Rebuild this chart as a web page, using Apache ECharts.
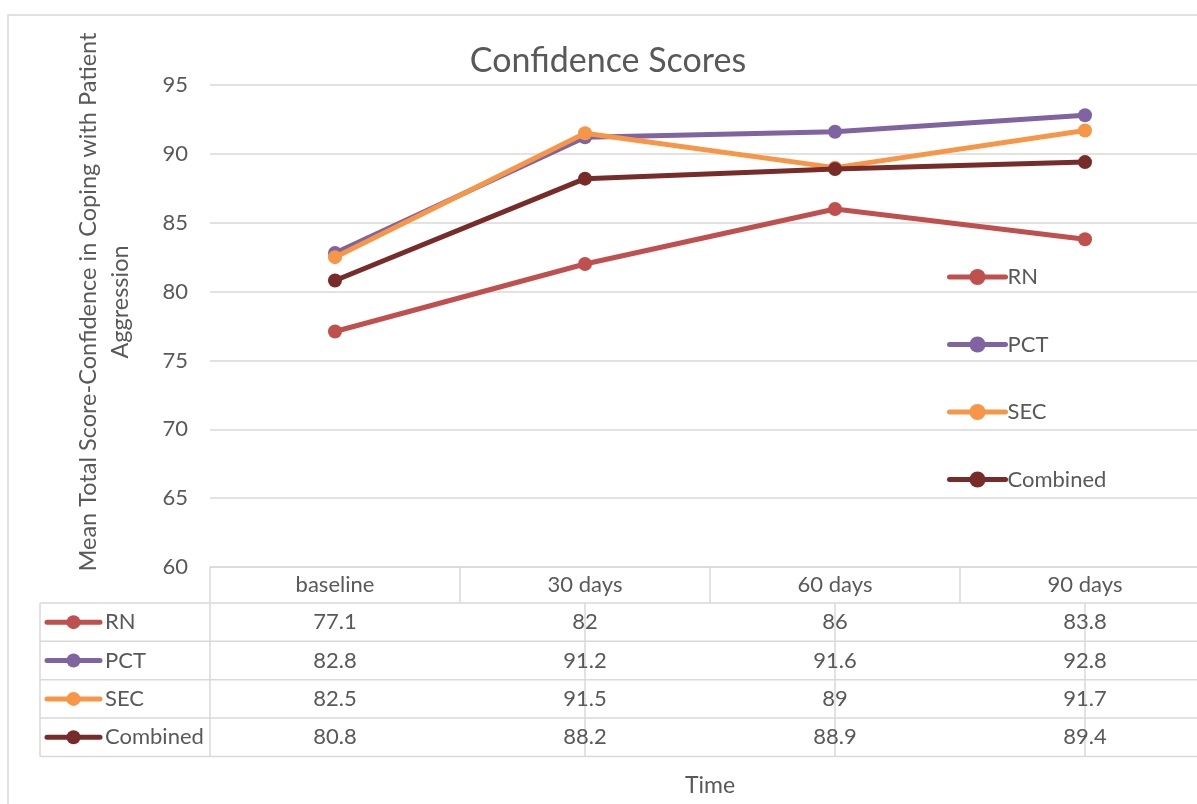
<!DOCTYPE html>
<html>
<head>
<meta charset="utf-8">
<script src="https://cdn.jsdelivr.net/npm/echarts@6/dist/echarts.min.js"></script>
<style>
  html, body { margin: 0; padding: 0; background: #fff; }
  #chart { width: 1197px; height: 804px; }
</style>
</head>
<body>
<div id="chart"></div>
<script>
  // data
  const categories = ['baseline', '30 days', '60 days', '90 days']
  const seriesNames = ['RN', 'PCT', 'SEC', 'Combined']
  const rn = [77.1, 82, 86, 83.8]
  const pct = [82.8, 91.2, 91.6, 92.8]
  const sec = [82.5, 91.5, 89, 91.7]
  const combined = [80.8, 88.2, 88.9, 89.4]
  const yTicks = [60, 65, 70, 75, 80, 85, 90, 95]

  const allValues = [rn, pct, sec, combined]
  const colors = ['#c0504d', '#8064a2', '#f79646', '#772c2a']
  const textColor = '#595959'
  const lineGray = '#d9d9d9'
  const font = 'Lato, "Open Sans", sans-serif'

  const chart = echarts.init(document.getElementById('chart'))

  const option = {
    animation: false,
    title: {
      text: 'Confidence Scores',
      left: 603,
      top: 39,
      textAlign: 'center',
      textStyle: { color: textColor, fontSize: 34, fontWeight: 'normal', fontFamily: font }
    },
    legend: {
      orient: 'vertical',
      left: 947,
      top: 266,
      padding: 0,
      itemWidth: 56,
      itemHeight: 20,
      itemGap: 45.5,
      lineStyle: { width: 5 },
      textStyle: { color: textColor, fontSize: 22, fontFamily: font, padding: [0, 0, 0, -3] },
      data: seriesNames.map(n => ({ name: n, lineStyle: { width: 5 } }))
    },
    grid: {
      left: 210,
      top: 85,
      width: 1000,
      height: 482,
      outerBoundsMode: 'none'
    },
    xAxis: {
      type: 'category',
      data: categories,
      boundaryGap: true,
      name: 'Time',
      nameLocation: 'middle',
      nameGap: 207,
      nameTextStyle: { color: textColor, fontSize: 23, fontFamily: font },
      axisLine: { lineStyle: { color: lineGray, width: 1.5 } },
      axisTick: { show: true, inside: false, length: 36, lineStyle: { color: lineGray, width: 1.5 } },
      axisLabel: { color: textColor, fontSize: 22, fontFamily: font, margin: 7, verticalAlign: 'top' }
    },
    yAxis: {
      type: 'value',
      min: yTicks[0],
      max: yTicks[yTicks.length - 1],
      interval: 5,
      axisLine: { show: false },
      axisTick: { show: false },
      axisLabel: { color: textColor, fontSize: 22, fontFamily: font, margin: 22 },
      splitLine: { lineStyle: { color: lineGray, width: 1.5 } }
    },
    // later series drawn on top, like Excel
    series: seriesNames.map((name, i) => ({
      name: name,
      type: 'line',
      data: allValues[i],
      symbol: 'circle',
      symbolSize: 14,
      color: colors[i],
      lineStyle: { width: 5, cap: 'round' },
      z: 2 + i
    }))
  }
  chart.setOption(option)

  // data table under the plot, built from the same arrays
  const rowTop = 603
  const rowH = 38.35
  const tableLeft = 40
  const plotLeft = 210
  const rightEdge = 1197
  const graphic = []
  const line = (x1, y1, x2, y2) => ({
    type: 'line', silent: true,
    shape: { x1: x1, y1: y1, x2: x2, y2: y2 },
    style: { stroke: lineGray, lineWidth: 1.5 }
  })
  // outer chart border
  graphic.push({
    type: 'rect', silent: true,
    shape: { x: 8, y: 15, width: 1300, height: 900 },
    style: { fill: 'none', stroke: lineGray, lineWidth: 1.5 }
  })
  // y axis title (Excel centres it a bit above the plot middle)
  graphic.push({
    type: 'text', silent: true,
    x: 104, y: 302, rotation: Math.PI / 2,
    style: {
      text: 'Mean Total Score-Confidence in Coping with Patient\nAggression',
      fill: textColor, fontSize: 23.5, fontFamily: font, lineHeight: 32,
      align: 'center', verticalAlign: 'middle'
    }
  })
  const tableBottom = rowTop + rowH * seriesNames.length
  for (let r = 0; r <= seriesNames.length; r++) {
    const y = rowTop + r * rowH
    graphic.push(line(tableLeft, y, rightEdge, y))
  }
  const colX = [tableLeft, plotLeft]
  for (let c = 1; c <= categories.length; c++) {
    colX.push(chart.convertToPixel({ xAxisIndex: 0 }, c - 0.5))
  }
  colX.forEach(x => graphic.push(line(x, rowTop, x, tableBottom)))

  seriesNames.forEach((name, r) => {
    const cy = rowTop + r * rowH + rowH / 2
    graphic.push({
      type: 'line', silent: true,
      shape: { x1: 47, y1: cy, x2: 100, y2: cy },
      style: { stroke: colors[r], lineWidth: 5, lineCap: 'round' }
    })
    graphic.push({
      type: 'circle', silent: true,
      shape: { cx: 73.5, cy: cy, r: 7 },
      style: { fill: colors[r] }
    })
    graphic.push({
      type: 'text', silent: true,
      x: 105, y: cy,
      style: { text: name, fill: textColor, fontSize: 22, fontFamily: font, verticalAlign: 'middle', align: 'left' }
    })
    allValues[r].forEach((v, c) => {
      graphic.push({
        type: 'text', silent: true,
        x: chart.convertToPixel({ xAxisIndex: 0 }, c), y: cy,
        style: { text: String(v), fill: textColor, fontSize: 22, fontFamily: font, verticalAlign: 'middle', align: 'center' }
      })
    })
  })
  chart.setOption({ graphic: graphic })
</script>
</body>
</html>
